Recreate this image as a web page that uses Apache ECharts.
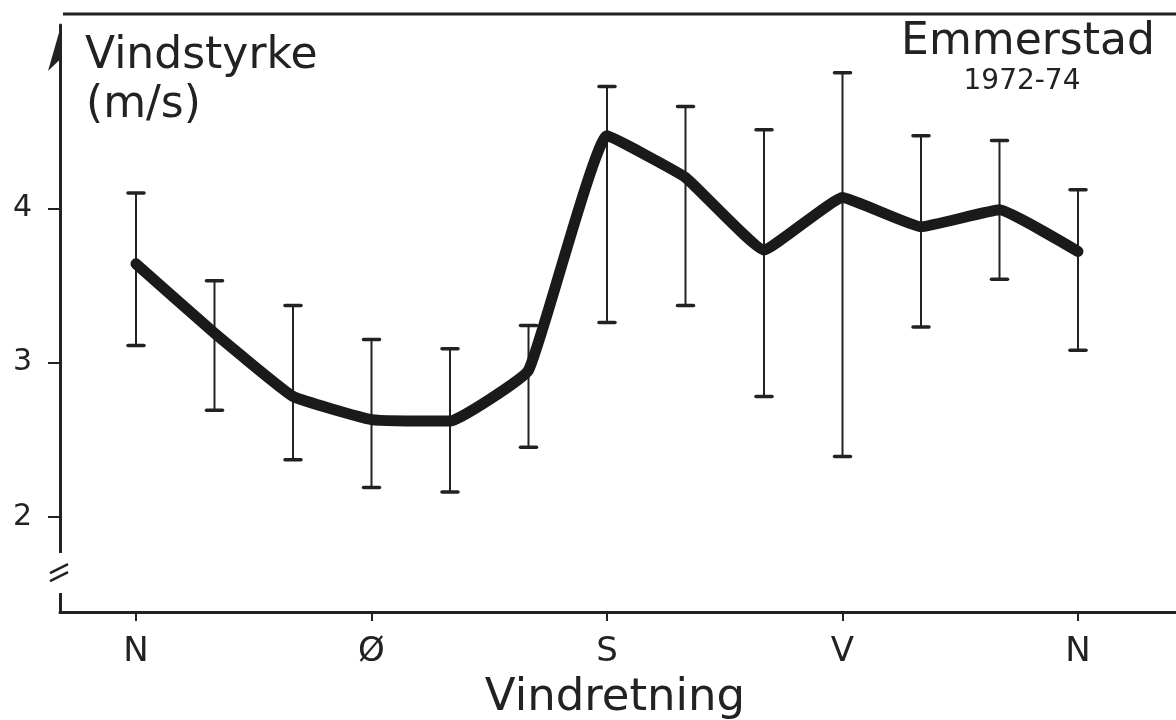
<!DOCTYPE html>
<html>
<head>
<meta charset="utf-8">
<script src="https://cdn.jsdelivr.net/npm/echarts@6/dist/echarts.min.js"></script>
<style>
  html, body { margin: 0; padding: 0; background: #fff; }
  #chart { width: 1176px; height: 720px; }
</style>
</head>
<body>
<div id="chart"></div>
<script>
// Wind direction in degrees (N = 0, Ø = 90, S = 180, V = 270, N = 360)
const directions = [0, 30, 60, 90, 120, 150, 180, 210, 240, 270, 300, 330, 360];
// Mean wind speed (m/s) per direction, Emmerstad 1972-74
const meanSpeed  = [3.64, 3.19, 2.78, 2.63, 2.62, 2.95, 4.47, 4.20, 3.73, 4.07, 3.88, 3.99, 3.72];
// Upper and lower ends of the spread bars
const upperSpeed = [4.10, 3.53, 3.37, 3.15, 3.09, 3.24, 4.79, 4.66, 4.51, 4.88, 4.47, 4.44, 4.12];
const lowerSpeed = [3.11, 2.69, 2.37, 2.19, 2.16, 2.45, 3.26, 3.37, 2.78, 2.39, 3.23, 3.54, 3.08];

// Axis tick positions and labels
const dirTicks  = [0, 90, 180, 270, 360];
const dirLabels = ['N', 'Ø', 'S', 'V', 'N'];
const speedTicks = [2, 3, 4];

const INK = '#222';
const FONT = 'DejaVu Sans';

const lineData = directions.map((d, i) => [d, meanSpeed[i]]);
const barData = directions.map((d, i) => [d, lowerSpeed[i], upperSpeed[i]]);

const chart = echarts.init(document.getElementById('chart'), null, { renderer: 'canvas' });

const option = {
  animation: false,
  backgroundColor: '#fff',
  grid: { left: 60, right: 0, top: 25, bottom: 108, containLabel: false },
  xAxis: {
    type: 'value',
    min: -29.04,
    max: 397.45,
    splitLine: { show: false },
    axisLine: { show: true, onZero: false, lineStyle: { color: INK, width: 3 } },
    axisTick: {
      show: true, customValues: dirTicks, length: 9, inside: false,
      lineStyle: { color: INK, width: 2 }
    },
    axisLabel: {
      customValues: dirTicks,
      formatter: v => dirLabels[dirTicks.indexOf(v)],
      color: INK, fontFamily: FONT, fontSize: 34, margin: 23
    }
  },
  yAxis: {
    type: 'value',
    min: 1.382,
    max: 5.189,
    splitLine: { show: false },
    axisLine: { show: true, onZero: false, lineStyle: { color: INK, width: 3 } },
    axisTick: {
      show: true, customValues: speedTicks, length: 12,
      lineStyle: { color: INK, width: 2 }
    },
    axisLabel: {
      customValues: speedTicks,
      color: INK, fontFamily: FONT, fontSize: 30, margin: 28
    }
  },
  series: [
    {
      type: 'custom',
      name: 'spread',
      data: barData,
      z: 2,
      renderItem: function (params, api) {
        const x = api.value(0);
        const pLo = api.coord([x, api.value(1)]);
        const pHi = api.coord([x, api.value(2)]);
        const hw = 8;
        return {
          type: 'group',
          children: [
            { type: 'line', shape: { x1: pHi[0], y1: pHi[1], x2: pLo[0], y2: pLo[1] },
              style: { stroke: INK, lineWidth: 2 } },
            { type: 'line', shape: { x1: pHi[0] - hw, y1: pHi[1], x2: pHi[0] + hw, y2: pHi[1] },
              style: { stroke: INK, lineWidth: 3.5, lineCap: 'round' } },
            { type: 'line', shape: { x1: pLo[0] - hw, y1: pLo[1], x2: pLo[0] + hw, y2: pLo[1] },
              style: { stroke: INK, lineWidth: 3.5, lineCap: 'round' } }
          ]
        };
      }
    },
    {
      type: 'line',
      name: 'Vindstyrke',
      data: lineData,
      z: 3,
      symbol: 'none',
      smooth: 0.1,
      lineStyle: { color: '#1a1a1a', width: 11, cap: 'round', join: 'round' }
    }
  ]
};

chart.setOption(option);

// Decorations: top rule, arrow head on the speed axis, axis break, and texts
const axisX = chart.convertToPixel({ xAxisIndex: 0 }, -29.04);
const breakTop = chart.convertToPixel({ yAxisIndex: 0 }, 1.765);
const breakBot = chart.convertToPixel({ yAxisIndex: 0 }, 1.505);
const breakMid = chart.convertToPixel({ yAxisIndex: 0 }, 1.64);

chart.setOption({
  graphic: [
    { type: 'line', shape: { x1: axisX + 3, y1: 14, x2: 1176, y2: 14 },
      style: { stroke: INK, lineWidth: 3 } },
    { type: 'polygon', shape: { points: [[axisX + 1.5, 24], [axisX - 12, 71], [axisX + 1.5, 58]] },
      style: { fill: INK } },
    { type: 'rect', shape: { x: axisX - 4, y: breakTop, width: 8, height: breakBot - breakTop },
      style: { fill: '#fff' }, z: 10 },
    { type: 'line', shape: { x1: axisX - 10, y1: breakMid + 1, x2: axisX + 8, y2: breakMid - 8 },
      style: { stroke: INK, lineWidth: 2.5 }, z: 11 },
    { type: 'line', shape: { x1: axisX - 10, y1: breakMid + 9, x2: axisX + 8, y2: breakMid + 0 },
      style: { stroke: INK, lineWidth: 2.5 }, z: 11 },
    { type: 'text', x: 85, y: 57,
      style: { text: 'Vindstyrke', fill: INK, font: '44px "DejaVu Sans"', textAlign: 'left', textVerticalAlign: 'middle' } },
    { type: 'text', x: 86, y: 106,
      style: { text: '(m/s)', fill: INK, font: '44px "DejaVu Sans"', textAlign: 'left', textVerticalAlign: 'middle' } },
    { type: 'text', x: 1028, y: 43,
      style: { text: 'Emmerstad', fill: INK, font: '44px "DejaVu Sans"', textAlign: 'center', textVerticalAlign: 'middle' } },
    { type: 'text', x: 1022, y: 82,
      style: { text: '1972-74', fill: INK, font: '28px "DejaVu Sans"', textAlign: 'center', textVerticalAlign: 'middle' } },
    { type: 'text', x: 615, y: 698,
      style: { text: 'Vindretning', fill: INK, font: '45px "DejaVu Sans"', textAlign: 'center', textVerticalAlign: 'middle' } }
  ]
});
</script>
</body>
</html>
